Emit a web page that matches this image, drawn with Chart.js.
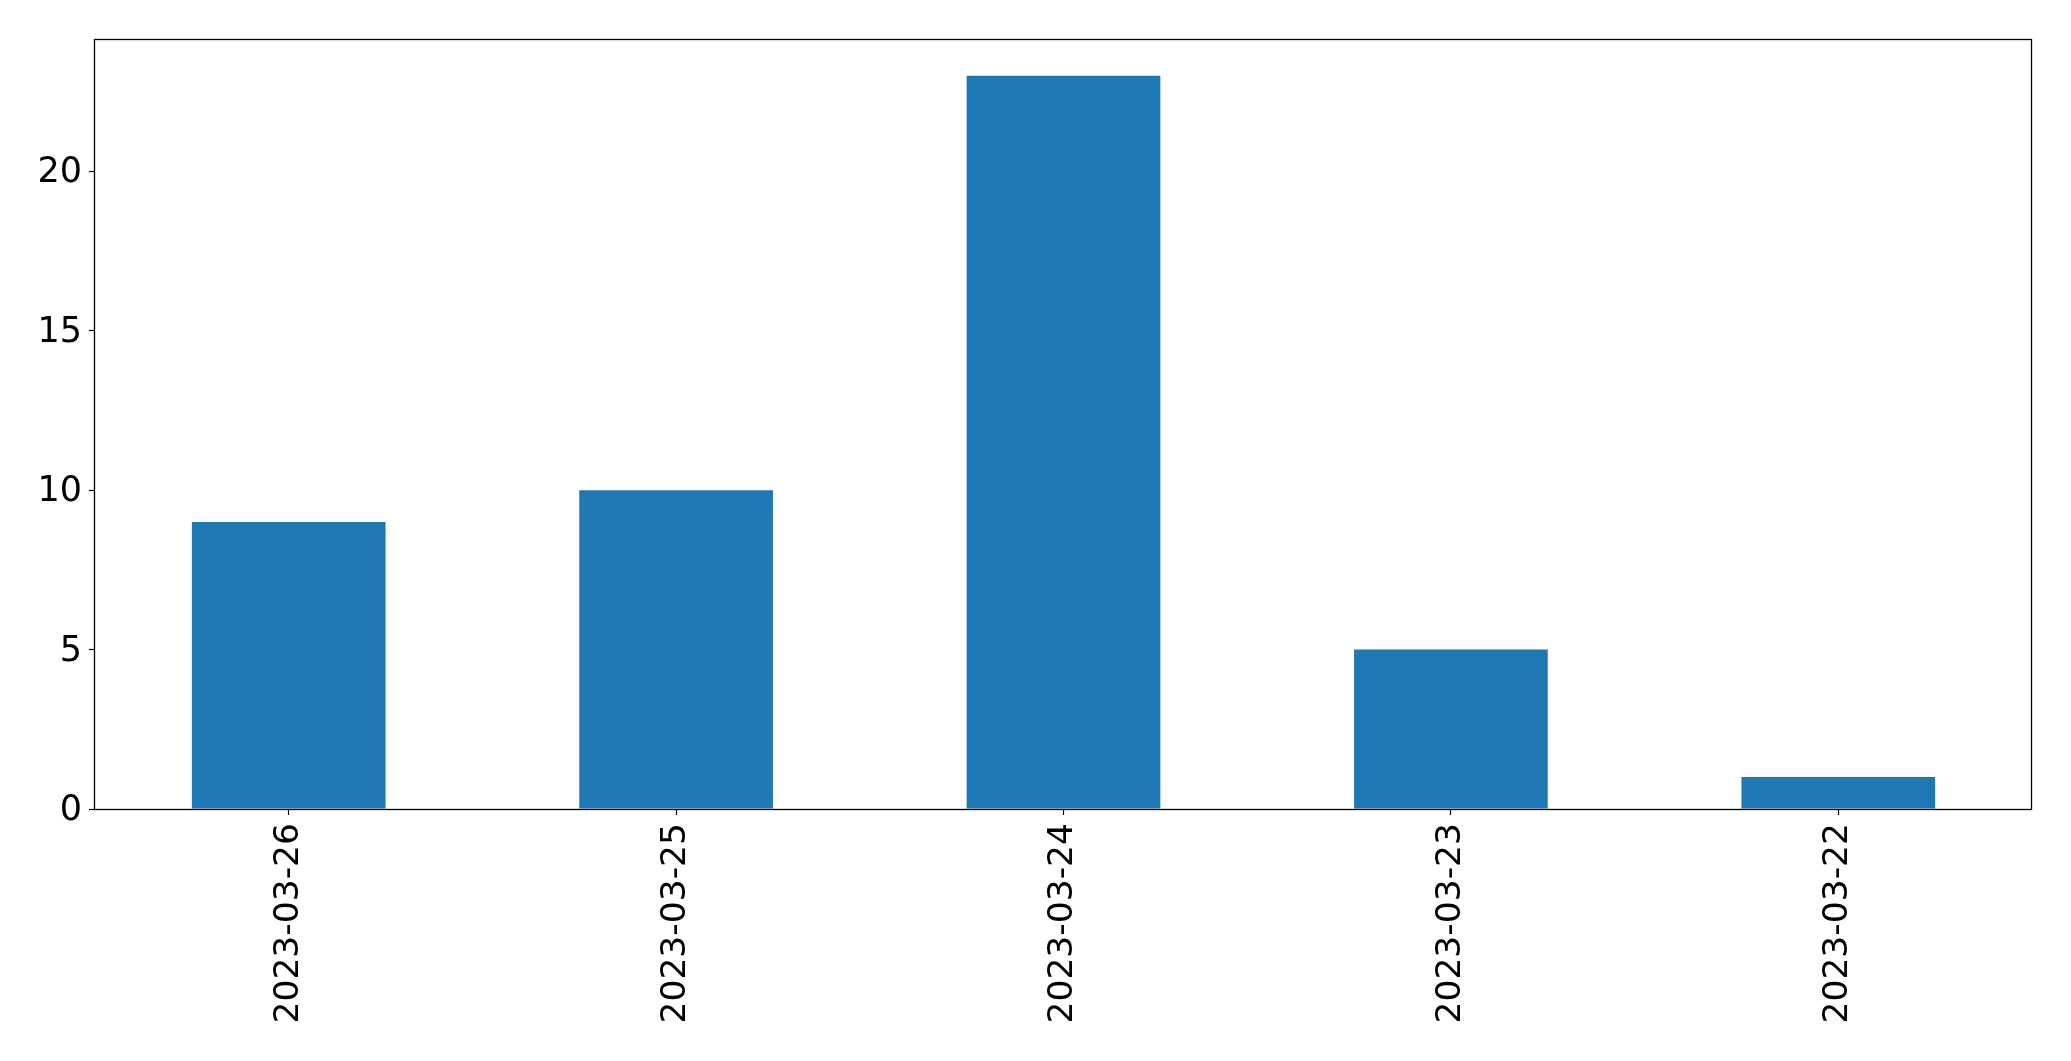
<!DOCTYPE html>
<html>
<head>
<meta charset="utf-8">
<script src="https://cdn.jsdelivr.net/npm/chart.js@4/dist/chart.umd.min.js"></script>
<style>
  html, body { margin: 0; padding: 0; background: #ffffff; }
  #wrap { width: 2071px; height: 1061px; position: relative; }
</style>
</head>
<body>
<div id="wrap"><canvas id="c" width="2071" height="1061"></canvas></div>
<script>
const categories = ["2023-03-26", "2023-03-25", "2023-03-24", "2023-03-23", "2023-03-22"];
const counts = [9, 10, 23, 5, 1];
const yTicks = [0, 5, 10, 15, 20];
const yMax = 24.15;

const frame = {
  id: 'frame',
  afterDatasetsDraw(chart) {
    const a = chart.chartArea, ctx = chart.ctx;
    ctx.save();
    ctx.strokeStyle = '#000000';
    ctx.lineWidth = 1.3;
    ctx.strokeRect(Math.round(a.left) - 0.5, Math.round(a.top) + 0.5,
                   Math.round(a.right - a.left), Math.round(a.bottom - a.top));
    ctx.restore();
  }
};

new Chart(document.getElementById('c'), {
  type: 'bar',
  data: {
    labels: categories,
    datasets: [{
      data: counts,
      backgroundColor: '#1f77b4',
      borderWidth: 0,
      barPercentage: 0.5,
      categoryPercentage: 1.0
    }]
  },
  options: {
    responsive: false,
    animation: false,
    devicePixelRatio: 1,
    layout: { padding: { left: 0, top: 39, right: 39, bottom: 0 } },
    plugins: { legend: { display: false }, tooltip: { enabled: false } },
    scales: {
      x: {
        offset: true,
        grid: { display: true, offset: false, drawOnChartArea: false, tickLength: 6, tickColor: '#000000', tickWidth: 1.2 },
        border: { display: false },
        ticks: {
          color: '#000000',
          font: { family: 'DejaVu Sans', size: 34.5 },
          minRotation: 90, maxRotation: 90,
          padding: 8,
          autoSkip: false
        },
        afterFit(axis) { axis.height = 1061 - 809; }
      },
      y: {
        min: 0, max: yMax,
        grid: { display: true, drawOnChartArea: false, tickLength: 6, tickColor: '#000000', tickWidth: 1.2 },
        border: { display: false },
        ticks: {
          color: '#000000',
          font: { family: 'DejaVu Sans', size: 35 },
          padding: 7,
          labelOffset: 2,
          includeBounds: false
        },
        afterBuildTicks(axis) { axis.ticks = yTicks.map(v => ({ value: v })); },
        afterFit(axis) { axis.width = 95; }
      }
    }
  },
  plugins: [frame]
});
</script>
</body>
</html>
